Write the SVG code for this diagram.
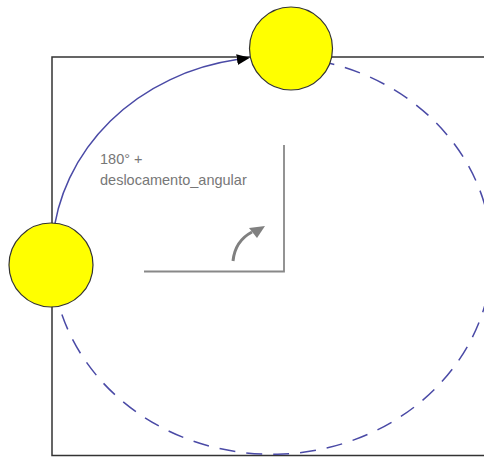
<svg xmlns="http://www.w3.org/2000/svg" width="484" height="457" viewBox="0 0 484 457">
<style>
.frame{fill:none;stroke:#333;stroke-width:1.5}
.orbit{fill:none;stroke:#4a4aa6;stroke-width:1.5}
.dash{stroke-dasharray:16 11}
.body{fill:#ffff00;stroke:#333;stroke-width:1.2}
.guide{fill:none;stroke:#888;stroke-width:1.8}
.lbl{font-family:"Liberation Sans",Arial,sans-serif;font-size:14.5px;fill:#777}
</style>
<defs>
<marker id="blackArrow" markerWidth="13" markerHeight="11" refX="0" refY="5.5" orient="auto" markerUnits="userSpaceOnUse">
<path d="M0 0 L13 5.5 L0 11 Z" fill="#000"/>
</marker>
</defs>
<rect width="484" height="457" fill="#fff"/>
<g id="frame">
<rect class="frame" x="52" y="57" width="450" height="398.5"/>
</g>
<g id="angle-guide">
<path class="guide" d="M284 145 V271.5 H144"/>
<path d="M233 261 Q235 241 252 232" fill="none" stroke="#808080" stroke-width="3"/>
<polygon points="249,228 265,226 257,238" fill="#808080"/>
</g>
<g id="connectors">
<path class="orbit" d="M52.7 240 A220 199 0 0 1 237 59.6" marker-end="url(#blackArrow)"/>
<path class="orbit dash" d="M292 57.1 A220 199 0 1 1 52.7 272"/>
</g>
<g id="label">
<text class="lbl" x="100" y="163.5">180° +</text>
<text class="lbl" x="100" y="185">deslocamento_angular</text>
</g>
<g id="body-top">
<circle class="body" cx="291" cy="48.5" r="41.5"/>
</g>
<g id="body-left">
<circle class="body" cx="51" cy="265" r="42"/>
</g>
</svg>
